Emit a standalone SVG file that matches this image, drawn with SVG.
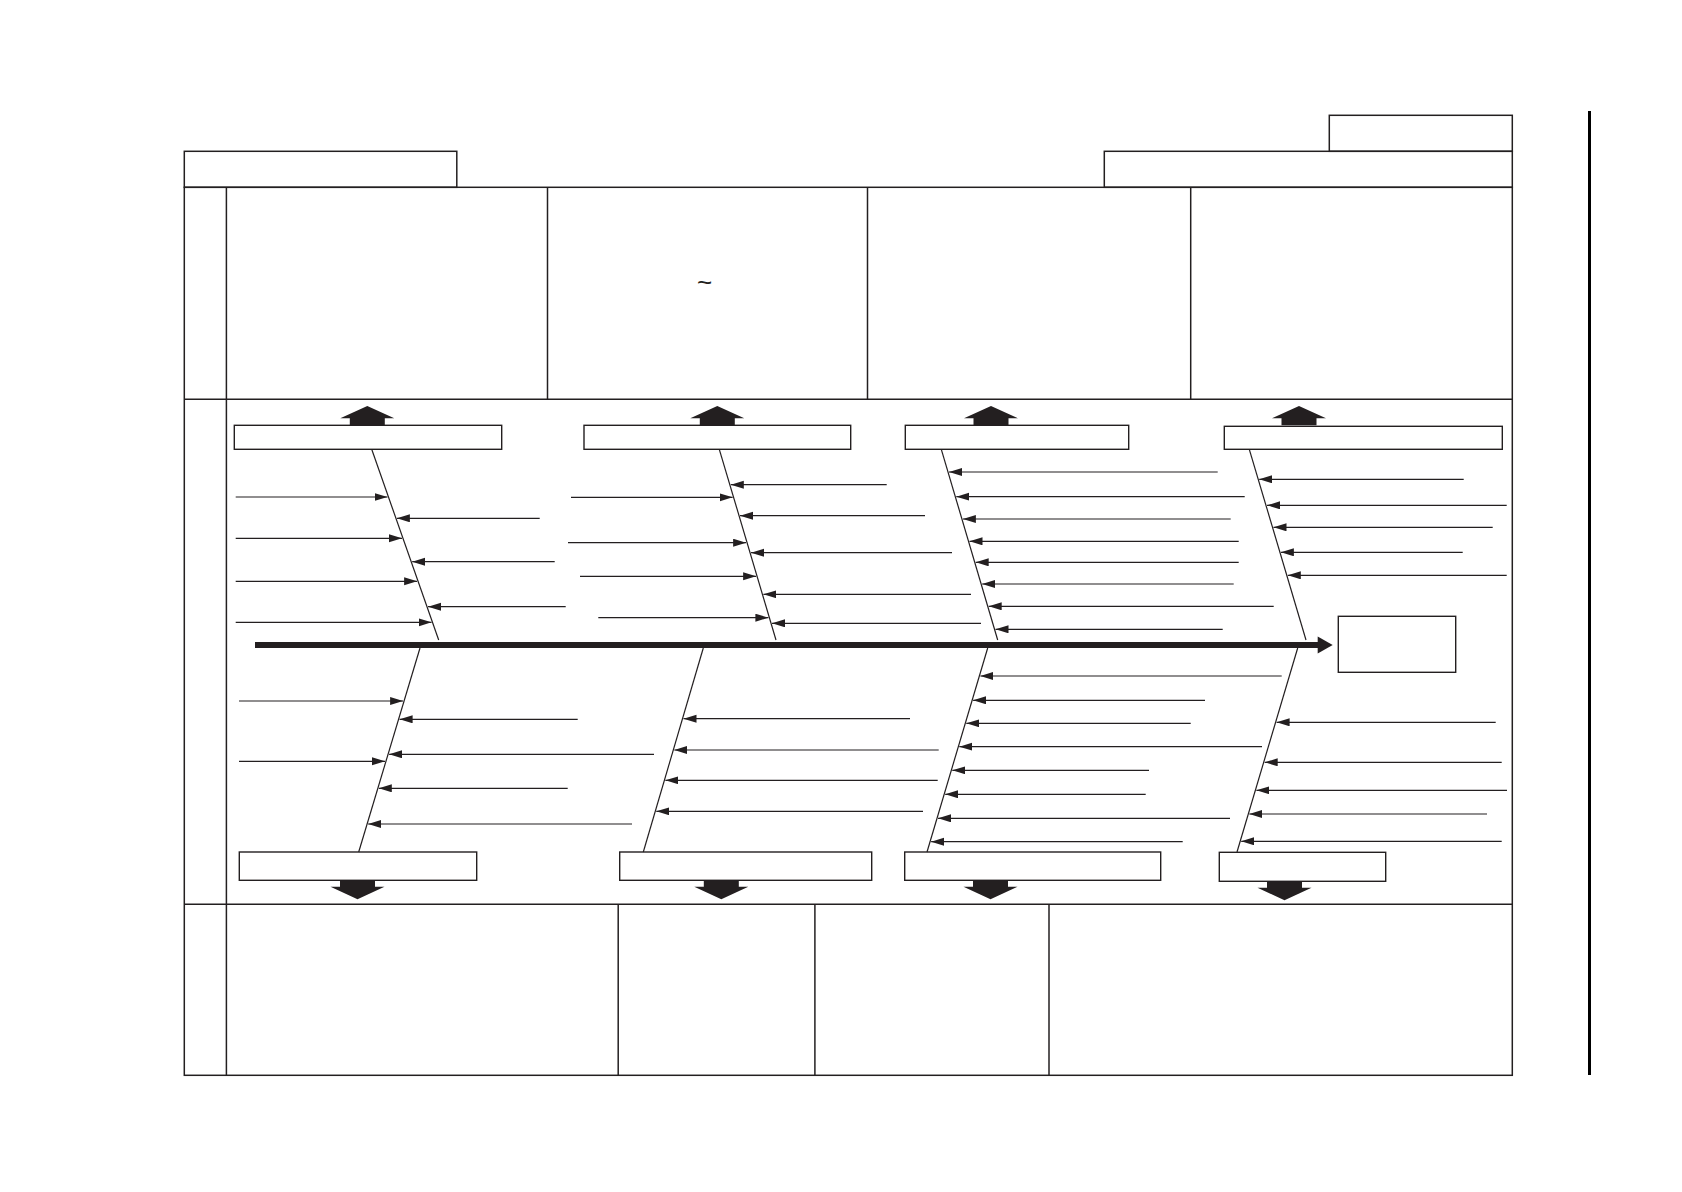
<svg xmlns="http://www.w3.org/2000/svg" width="1682" height="1192" viewBox="0 0 1682 1192">
<style>
.f{fill:none;stroke:#231f20;stroke-width:1.5}
.b{fill:#fff;stroke:#231f20;stroke-width:1.4}
.s{stroke:#231f20;stroke-width:1.2;fill:none}
.a{stroke:#231f20;stroke-width:1.2;fill:none;marker-end:url(#ah)}
.blk{fill:#231f20;stroke:none}
</style>
<defs>
<marker id="ah" markerUnits="userSpaceOnUse" markerWidth="14" markerHeight="9" refX="13" refY="4" orient="auto">
<path d="M0,0 L13,4 L0,8 z" fill="#231f20"/>
</marker>
<polygon id="up" points="0,0 27,12.3 17.5,12.3 17.5,19.3 -17.5,19.3 -17.5,12.3 -27,12.3"/>
<polygon id="dn" points="-17.5,0 17.5,0 17.5,6.4 27,6.4 0,19 -27,6.4 -17.5,6.4"/>
</defs>
<rect width="1682" height="1192" fill="#fff"/>
<g id="frame">
<rect class="f" x="184.3" y="151.3" width="272.5" height="36"/>
<rect class="f" x="1104.3" y="151.3" width="408" height="36"/>
<rect class="f" x="1329.3" y="115.3" width="183" height="36"/>
<rect class="f" x="184.3" y="187.3" width="1328" height="888"/>
<line class="f" x1="226.4" y1="187.3" x2="226.4" y2="1075.3"/>
<line class="f" x1="184.3" y1="399.3" x2="1512.3" y2="399.3"/>
<line class="f" x1="184.3" y1="904.3" x2="1512.3" y2="904.3"/>
<line class="f" x1="547.5" y1="187.3" x2="547.5" y2="399.3"/>
<line class="f" x1="867.5" y1="187.3" x2="867.5" y2="399.3"/>
<line class="f" x1="1190.7" y1="187.3" x2="1190.7" y2="399.3"/>
<line class="f" x1="618.2" y1="904.3" x2="618.2" y2="1075.3"/>
<line class="f" x1="814.9" y1="904.3" x2="814.9" y2="1075.3"/>
<line class="f" x1="1049" y1="904.3" x2="1049" y2="1075.3"/>
<line x1="1589.5" y1="111" x2="1589.5" y2="1075" stroke="#000" stroke-width="3"/>
<text x="704.6" y="291" font-family="Liberation Sans, Arial, sans-serif" font-size="26" text-anchor="middle" fill="#231f20">~</text>
</g>
<g id="node-u1"><rect class="b" x="234.3" y="425.3" width="267.4" height="24"/><use href="#up" class="blk" x="367.3" y="406"/></g>
<g id="node-u2"><rect class="b" x="584" y="425.3" width="266.7" height="24"/><use href="#up" class="blk" x="717.3" y="406"/></g>
<g id="node-u3"><rect class="b" x="905.3" y="425.3" width="223.4" height="24"/><use href="#up" class="blk" x="991" y="406"/></g>
<g id="node-u4"><rect class="b" x="1224.3" y="426.3" width="278" height="23"/><use href="#up" class="blk" x="1299" y="406"/></g>
<g id="node-l1"><rect class="b" x="239.3" y="852" width="237.4" height="28.3"/><use href="#dn" class="blk" x="357.5" y="880.3"/></g>
<g id="node-l2"><rect class="b" x="619.7" y="852" width="252" height="28.3"/><use href="#dn" class="blk" x="721.3" y="880.3"/></g>
<g id="node-l3"><rect class="b" x="904.7" y="852" width="256" height="28.3"/><use href="#dn" class="blk" x="990.5" y="880.3"/></g>
<g id="node-l4"><rect class="b" x="1219.3" y="852.3" width="166.4" height="29"/><use href="#dn" class="blk" x="1284.5" y="881.3"/></g>
<g id="node-effect"><rect class="b" x="1338.3" y="616.3" width="117.4" height="56"/></g>
<g id="connectors">
<rect class="blk" x="255" y="642" width="1063" height="6"/>
<polygon class="blk" points="1317.7,636.5 1332.7,645 1317.7,653.5"/>
<line class="s" x1="371.7" y1="449.3" x2="438.7" y2="640"/>
<line class="s" x1="719.3" y1="449.3" x2="776" y2="640"/>
<line class="s" x1="941.3" y1="449.3" x2="997.7" y2="640"/>
<line class="s" x1="1249.3" y1="449.3" x2="1306" y2="640"/>
<line class="s" x1="420" y1="648" x2="358.7" y2="852"/>
<line class="s" x1="703.3" y1="648" x2="643.3" y2="852"/>
<line class="s" x1="987.7" y1="648" x2="927" y2="852"/>
<line class="s" x1="1297.7" y1="648" x2="1237" y2="852"/>
<!-- U1 -->
<line class="a" x1="235.7" y1="497" x2="387.5" y2="497"/>
<line class="a" x1="235.7" y1="538.3" x2="402" y2="538.3"/>
<line class="a" x1="235.7" y1="581.3" x2="417.1" y2="581.3"/>
<line class="a" x1="235.7" y1="622.3" x2="431.5" y2="622.3"/>
<line class="a" x1="539.7" y1="518.3" x2="396.9" y2="518.3"/>
<line class="a" x1="554.7" y1="561.7" x2="412.2" y2="561.7"/>
<line class="a" x1="565.7" y1="606.7" x2="428" y2="606.7"/>
<!-- U2 -->
<line class="a" x1="571" y1="497.3" x2="732.6" y2="497.3"/>
<line class="a" x1="568" y1="542.7" x2="746.1" y2="542.7"/>
<line class="a" x1="580" y1="576.3" x2="756.1" y2="576.3"/>
<line class="a" x1="598.3" y1="617.7" x2="768.4" y2="617.7"/>
<line class="a" x1="886.7" y1="484.7" x2="730.8" y2="484.7"/>
<line class="a" x1="925" y1="515.7" x2="740" y2="515.7"/>
<line class="a" x1="952" y1="552.7" x2="751" y2="552.7"/>
<line class="a" x1="971" y1="594.3" x2="763.4" y2="594.3"/>
<line class="a" x1="981" y1="623.3" x2="772" y2="623.3"/>
<!-- U3 -->
<line class="a" x1="1217.7" y1="472" x2="949" y2="472"/>
<line class="a" x1="1244.7" y1="496.7" x2="956.3" y2="496.7"/>
<line class="a" x1="1230.7" y1="519" x2="962.9" y2="519"/>
<line class="a" x1="1238.7" y1="541.3" x2="969.5" y2="541.3"/>
<line class="a" x1="1238.7" y1="562.3" x2="975.7" y2="562.3"/>
<line class="a" x1="1233.7" y1="584" x2="982.1" y2="584"/>
<line class="a" x1="1273.7" y1="606.3" x2="988.7" y2="606.3"/>
<line class="a" x1="1222.7" y1="629.3" x2="995.5" y2="629.3"/>
<!-- U4 -->
<line class="a" x1="1463.7" y1="479.3" x2="1259.2" y2="479.3"/>
<line class="a" x1="1506.7" y1="505.3" x2="1267" y2="505.3"/>
<line class="a" x1="1492.7" y1="527.3" x2="1273.5" y2="527.3"/>
<line class="a" x1="1462.7" y1="552.3" x2="1280.9" y2="552.3"/>
<line class="a" x1="1506.7" y1="575.3" x2="1287.8" y2="575.3"/>
<!-- L1 -->
<line class="a" x1="239" y1="701" x2="403.1" y2="701"/>
<line class="a" x1="239" y1="761.3" x2="385" y2="761.3"/>
<line class="a" x1="577.7" y1="719.3" x2="399.6" y2="719.3"/>
<line class="a" x1="654" y1="754.3" x2="389.1" y2="754.3"/>
<line class="a" x1="567.7" y1="788.3" x2="378.8" y2="788.3"/>
<line class="a" x1="632" y1="824" x2="368.1" y2="824"/>
<!-- L2 -->
<line class="a" x1="910" y1="718.7" x2="683.5" y2="718.7"/>
<line class="a" x1="938.7" y1="750" x2="674.3" y2="750"/>
<line class="a" x1="937.7" y1="780.3" x2="665.4" y2="780.3"/>
<line class="a" x1="923" y1="811.3" x2="656.3" y2="811.3"/>
<!-- L3 -->
<line class="a" x1="1281.7" y1="676" x2="980.4" y2="676"/>
<line class="a" x1="1205" y1="700.3" x2="973.1" y2="700.3"/>
<line class="a" x1="1190.7" y1="723.3" x2="966.3" y2="723.3"/>
<line class="a" x1="1262" y1="746.7" x2="959.3" y2="746.7"/>
<line class="a" x1="1149" y1="770.3" x2="952.3" y2="770.3"/>
<line class="a" x1="1145.7" y1="794.3" x2="945.2" y2="794.3"/>
<line class="a" x1="1230" y1="818.3" x2="938" y2="818.3"/>
<line class="a" x1="1182.7" y1="841.7" x2="931.1" y2="841.7"/>
<!-- L4 -->
<line class="a" x1="1495.7" y1="722.3" x2="1276.6" y2="722.3"/>
<line class="a" x1="1501.7" y1="762.3" x2="1264.7" y2="762.3"/>
<line class="a" x1="1507" y1="790.3" x2="1256.4" y2="790.3"/>
<line class="a" x1="1487" y1="814" x2="1249.3" y2="814"/>
<line class="a" x1="1501.7" y1="841.3" x2="1241.2" y2="841.3"/>
</g>
</svg>
